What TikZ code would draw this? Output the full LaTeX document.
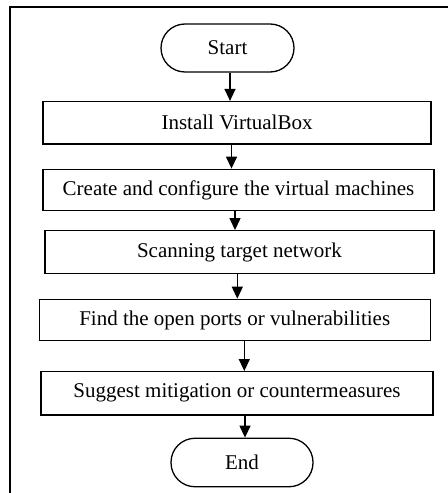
\documentclass[tikz,border=0pt]{standalone}
\usepackage{fontspec}
\setmainfont{Liberation Serif}
\usetikzlibrary{arrows.meta}
\begin{document}
\begin{tikzpicture}[x=1bp,y=-1bp,
  stepbox/.style={draw,line width=1.3bp,inner sep=0pt,font=\fontsize{21bp}{24bp}\selectfont},
  term/.style={stepbox,rounded corners=24bp},
  flow/.style={line width=1.3bp,-{Triangle[width=11bp,length=12bp]}},
  frame/.style={line width=2.2bp}]
\useasboundingbox (0,0) rectangle (448,493);
\coordinate (tl) at (10,7);
\coordinate (tr) at (448,7);
\coordinate (bl) at (10,493);
\draw[frame] (tr) -- (tl) -- (bl);
\node[term,minimum width=133bp,minimum height=48bp] (start) at (227.5,48) {Start};
\node[stepbox,minimum width=388bp,minimum height=42.5bp] (install) at (237,122.8) {Install VirtualBox};
\node[stepbox,minimum width=391bp,minimum height=41.5bp] (create) at (238.5,190) {Create and configure the virtual machines};
\node[stepbox,minimum width=389bp,minimum height=42.6bp] (scan) at (239.5,252) {Scanning target network};
\node[stepbox,minimum width=391bp,minimum height=41.4bp] (find) at (234.7,320) {Find the open ports or vulnerabilities};
\node[stepbox,minimum width=392bp,minimum height=43.3bp] (suggest) at (237,393.3) {Suggest mitigation or countermeasures};
\node[term,minimum width=142bp,minimum height=48.5bp] (end) at (242,462.5) {End};
\coordinate (a1) at (230,0);
\coordinate (a2) at (231.5,0);
\coordinate (a3) at (235,0);
\coordinate (a4) at (237.3,0);
\coordinate (a5) at (244.3,0);
\coordinate (a6) at (245,0);
\draw[flow] (start.south -| a1) -- (install.north -| a1);
\draw[flow] (install.south -| a2) -- (create.north -| a2);
\draw[flow] (create.south -| a3) -- (scan.north -| a3);
\draw[flow] (scan.south -| a4) -- (find.north -| a4);
\draw[flow] (find.south -| a5) -- (suggest.north -| a5);
\draw[flow] (suggest.south -| a6) -- (end.north -| a6);
\end{tikzpicture}
\end{document}
